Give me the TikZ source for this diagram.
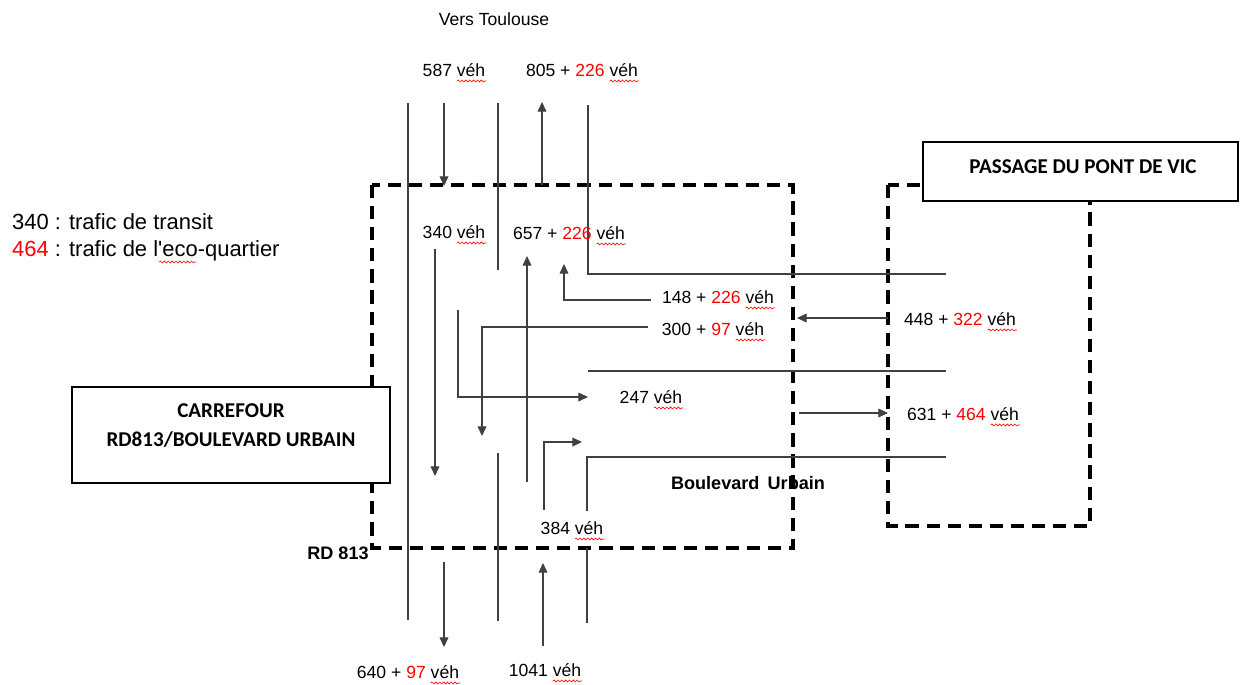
\documentclass[tikz,border=0pt]{standalone}
\usepackage{fontspec}
\setmainfont{Liberation Sans}
\newfontfamily\calib{Carlito}
\usetikzlibrary{arrows.meta,decorations.pathmorphing}
\newcommand\eco[1]{\textcolor{red}{#1}}

\begin{document}
\begin{tikzpicture}[x=0.02cm, y=-0.02cm, every node/.style={font=\fontsize{10}{12}\selectfont, inner sep=1pt}, >={Triangle[length=5.5pt,width=5pt]}, road/.style={black!75, line width=0.6pt}, flow/.style={black!75, line width=0.6pt, ->}, zone/.style={line width=2.6pt, dash pattern=on 7.5pt off 4.5pt}, titre/.style={draw, line width=0.9pt, fill=white}, titretxt/.style={font=\calib\bfseries\fontsize{12}{16.5}\selectfont, align=center}, nom/.style={font=\bfseries\fontsize{10.3}{12}\selectfont}, squig/.style={red, line width=0.35pt, decorate, decoration={snake, segment length=2.2pt, amplitude=0.55pt}}]
	\useasboundingbox (0,0) rectangle (1248,684);
	\draw[zone] (372,185) rectangle (793,548);
	\draw[zone] (888,185) rectangle (1090,526);
	\draw[road] (408,103) -- (408,620);
	\draw[road] (498,103) -- (498,270);
	\draw[road] (588,105) -- (588,274) -- (946,274);
	\draw[road] (588,371) -- (946,371);
	\draw[road] (587,511) -- (587,457) -- (946,457);
	\draw[road] (498,453) -- (498,621);
	\draw[road] (587,548) -- (587,623);
	\draw[flow] (444,103) -- (444,186);
	\draw[flow] (542,185) -- (542,102);
	\draw[flow] (435,249) -- (435,476);
	\draw[flow] (527,482) -- (527,256);
	\draw[flow] (651,300) -- (564,300) -- (564,264);
	\draw[flow] (648,327) -- (482,327) -- (482,436);
	\draw[flow] (458,310) -- (458,397) -- (588,397);
	\draw[flow] (544,510) -- (544,442) -- (582,442);
	\draw[flow] (444,562) -- (444,647);
	\draw[flow] (543,646) -- (543,563);
	\draw[flow] (888,318) -- (797,318);
	\draw[flow] (799,413) -- (888,413);
	\node (toulouse) at (494,19) {Vers Toulouse};
	\node (n587) at (454,70) {587 véh};
	\node (n805) at (582,70) {805 + \eco{226} véh};
	\node (n340) at (454,232) {340 véh};
	\node (n657) at (569,233) {657 + \eco{226} véh};
	\node (n148) at (718,297) {148 + \eco{226} véh};
	\node (n300) at (713,329) {300 + \eco{97} véh};
	\node (n247) at (651,397) {247 véh};
	\node (n448) at (960,319) {448 + \eco{322} véh};
	\node (n631) at (963,414) {631 + \eco{464} véh};
	\node (n384) at (572,528) {384 véh};
	\node (n640) at (408,672) {640 + \eco{97} véh};
	\node (n1041) at (545,670) {1041 véh};
	\foreach \n in {n587,n805,n340,n657,n148,n300,n247,n448,n631,n384,n640,n1041}
		\draw[squig] ([xshift=-17.3pt,yshift=-2.6pt]\n.base east) -- ([xshift=-0.6pt,yshift=-2.6pt]\n.base east);
	\node[nom] (boulevard) at (748,483) {Boulevard\hspace{0.45em}Urbain};
	\node[nom] (rd) at (338,553) {RD 813};
	\node[anchor=west, font=\fontsize{12.5}{15}\selectfont] (transit) at (10,222) {340 : trafic de transit};
	\node[anchor=west, font=\fontsize{12.5}{15}\selectfont] (quartier) at (10,251) {\eco{464} : trafic de l\textquotesingle eco-quartier};
	\draw[squig] ([xshift=85pt,yshift=-3pt]quartier.base west) -- ([xshift=106pt,yshift=-3pt]quartier.base west);
	\node[titre, minimum width=6.36cm, minimum height=1.92cm] (carrefour) at (231,435) {};
	\node[titretxt] (carrefourtxt) at (231,425.5) {CARREFOUR\\RD813/BOULEVARD URBAIN};
	\node[titre, minimum width=6.3cm, minimum height=1.18cm] (pont) at (1080.5,171.5) {};
	\node[titretxt] (ponttxt) at (1083,167) {PASSAGE DU PONT DE VIC};
\end{tikzpicture}
\end{document}
